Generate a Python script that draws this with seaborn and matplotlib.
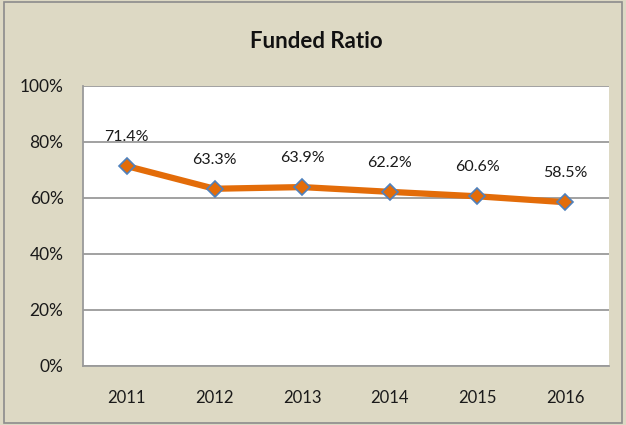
import matplotlib
matplotlib.use("Agg")
import matplotlib.pyplot as plt
import matplotlib.patches as mpatches
import pandas as pd
import seaborn as sns

# Chart data
years = ["2011", "2012", "2013", "2014", "2015", "2016"]
funded_ratio = [71.4, 63.3, 63.9, 62.2, 60.6, 58.5]
y_ticks = [0, 20, 40, 60, 80, 100]

BG = "#DDD9C4"
LINE = "#E36C09"
EDGE = "#4F81BD"
GRID = "#9A9A9A"

df = pd.DataFrame({"Year": years, "Ratio": funded_ratio})

sns.set_theme(style="white")
plt.rcParams["font.family"] = ["Lato", "DejaVu Sans"]

fig = plt.figure(figsize=(6.26, 4.25), dpi=100, facecolor=BG)
ax = fig.add_axes([83 / 626, 1 - 366 / 425, 526 / 626, 280 / 425])
ax.set_facecolor("white")

sns.lineplot(
    data=df, x="Year", y="Ratio", ax=ax, color=LINE, linewidth=4.5,
    marker="D", markersize=8, markerfacecolor=LINE, markeredgecolor=EDGE,
    markeredgewidth=1.2, sort=False,
)

for i, v in enumerate(funded_ratio):
    ax.annotate(f"{v}%", (i, v), xytext=(0, 21), textcoords="offset points",
                ha="center", va="center", fontsize=11.5, color="#1a1a1a")

ax.set_xlim(-0.5, len(years) - 0.5)
ax.set_ylim(0, 100)
ax.set_yticks(y_ticks)
ax.set_yticklabels([f"{t}%" for t in y_ticks], fontsize=12.5, color="#1a1a1a")
ax.tick_params(axis="x", labelsize=12, colors="#1a1a1a", pad=17, length=0)
ax.tick_params(axis="y", pad=14, length=0)
ax.set_xlabel("")
ax.set_ylabel("")

ax.yaxis.grid(True, color=GRID, linewidth=1.3)
ax.set_axisbelow(True)
for side in ["top", "right"]:
    ax.spines[side].set_visible(False)
for side in ["left", "bottom"]:
    ax.spines[side].set_color(GRID)
    ax.spines[side].set_linewidth(1.3)

fig.text(316 / 626, 1 - 41 / 425, "Funded Ratio", ha="center", va="center",
         fontsize=16, fontweight="bold", color="#111111")

# outer chart border
fig.patches.append(mpatches.Rectangle(
    (4 / 626, 2 / 425), 618 / 626, 421 / 425, transform=fig.transFigure,
    fill=False, edgecolor="#8C8C8C", linewidth=1.2))

fig.savefig("out.png", dpi=100, facecolor=BG)
